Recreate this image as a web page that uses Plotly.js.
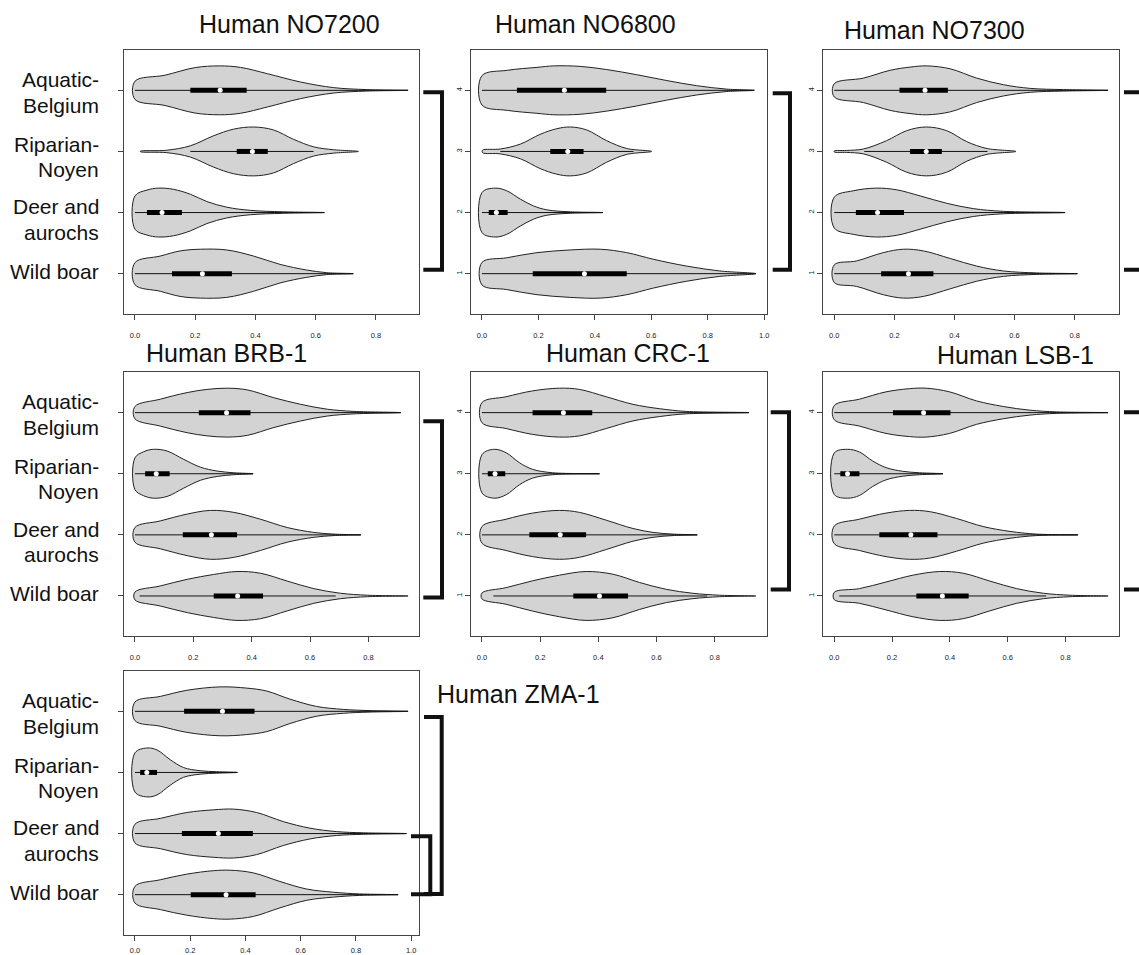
<!DOCTYPE html>
<html><head><meta charset="utf-8">
<script src="https://cdn.plot.ly/plotly-3.0.1.min.js"></script>
<style>html,body{margin:0;padding:0;background:#fff}</style>
</head><body><div id="chart" style="width:1139px;height:955px"></div>
<script>
// ---------------- DATA ----------------
const panelTitles = ["Human NO7200","Human NO6800","Human NO7300","Human BRB-1","Human CRC-1","Human LSB-1","Human ZMA-1"];
// category 1..4 (bottom to top)
const groupLines = [["Wild boar"],["Deer and","aurochs"],["Riparian-","Noyen"],["Aquatic-","Belgium"]];
const categoryTicks = [1,2,3,4];
const categoryTickText = ["1","2","3","4"];

// Density outlines: x positions and relative half-widths (per group: Wild boar, Deer, Riparian, Aquatic)
const NO7200_kx = [[0,0.084,0.15,0.217,0.305,0.394,0.482,0.57,0.637,0.725],[0,0.04,0.078,0.128,0.184,0.239,0.305,0.383,0.493,0.629],[0.018,0.106,0.184,0.261,0.327,0.394,0.46,0.526,0.593,0.659,0.742],[0,0.10,0.20,0.28,0.35,0.44,0.55,0.66,0.77,0.907]];
const NO7200_kw = [[0.45,0.72,0.93,1.0,0.97,0.72,0.38,0.15,0.04,0],[0.68,0.92,1.0,0.95,0.75,0.45,0.22,0.09,0.03,0],[0.01,0.05,0.23,0.64,0.91,1.0,0.88,0.5,0.19,0.07,0],[0.37,0.62,0.93,1.0,0.94,0.68,0.34,0.11,0.03,0]];
const NO7200_q1 = [0.123,0.04,0.338,0.184], NO7200_med = [0.224,0.09,0.39,0.283], NO7200_q3 = [0.322,0.156,0.441,0.371];
const NO7200_wlo = [0,0,0.184,0], NO7200_whi = [0.725,0.629,0.593,0.907];

const NO6800_kx = [[0,0.088,0.195,0.313,0.419,0.513,0.607,0.725,0.843,0.97],[0,0.047,0.088,0.136,0.183,0.23,0.313,0.428],[0.002,0.065,0.136,0.206,0.265,0.313,0.371,0.442,0.513,0.601],[0,0.09,0.195,0.254,0.348,0.442,0.548,0.655,0.761,0.867,0.965]];
const NO6800_kw = [[0.46,0.65,0.86,0.97,1.0,0.86,0.59,0.31,0.11,0],[0.82,1.0,0.89,0.55,0.27,0.11,0.03,0],[0.05,0.1,0.3,0.7,0.93,1.0,0.88,0.44,0.12,0],[0.6,0.82,0.94,1.0,0.98,0.85,0.64,0.4,0.19,0.05,0]];
const NO6800_q1 = [0.18,0.024,0.242,0.124], NO6800_med = [0.363,0.051,0.304,0.292], NO6800_q3 = [0.513,0.091,0.36,0.44];
const NO6800_wlo = [0,0,0.065,0], NO6800_whi = [0.97,0.428,0.537,0.965];

const NO7300_kx = [[0,0.074,0.163,0.23,0.297,0.386,0.474,0.563,0.674,0.809],[0,0.063,0.141,0.208,0.286,0.374,0.463,0.563,0.768],[0,0.041,0.097,0.174,0.241,0.306,0.374,0.441,0.508,0.604],[0,0.097,0.186,0.252,0.308,0.386,0.474,0.563,0.652,0.763,0.911]];
const NO7300_kw = [[0.36,0.52,0.86,1.0,0.93,0.62,0.31,0.11,0.03,0],[0.63,0.89,1.0,0.93,0.68,0.38,0.16,0.05,0],[0.02,0.04,0.1,0.44,0.85,1.0,0.85,0.4,0.12,0],[0.27,0.5,0.82,0.95,1.0,0.88,0.5,0.23,0.08,0.03,0]];
const NO7300_q1 = [0.156,0.072,0.252,0.217], NO7300_med = [0.247,0.144,0.306,0.302], NO7300_q3 = [0.33,0.232,0.358,0.378];
const NO7300_wlo = [0,0,0.1,0], NO7300_whi = [0.809,0.768,0.51,0.911];

const BRB1_kx = [[0,0.087,0.179,0.27,0.35,0.43,0.522,0.613,0.705,0.797,0.936],[0,0.087,0.179,0.259,0.339,0.43,0.522,0.613,0.682,0.774],[0,0.03,0.064,0.11,0.167,0.224,0.282,0.339,0.405],[0,0.087,0.179,0.247,0.316,0.385,0.476,0.568,0.659,0.751,0.911]];
const BRB1_kw = [[0.16,0.41,0.68,0.88,1.0,0.93,0.61,0.3,0.11,0.03,0],[0.3,0.57,0.85,1.0,0.92,0.64,0.3,0.1,0.03,0],[0.65,0.9,1.0,0.93,0.59,0.27,0.11,0.04,0],[0.25,0.55,0.82,0.95,1.0,0.93,0.61,0.34,0.14,0.05,0]];
const BRB1_q1 = [0.27,0.164,0.035,0.219], BRB1_med = [0.352,0.262,0.073,0.314], BRB1_q3 = [0.439,0.35,0.119,0.396];
const BRB1_wlo = [0.016,0,0,0], BRB1_whi = [0.688,0.774,0.405,0.911];

const CRC1_kx = [[0,0.083,0.174,0.266,0.358,0.45,0.542,0.634,0.725,0.817,0.941],[0,0.083,0.174,0.266,0.335,0.427,0.519,0.588,0.657,0.74],[0,0.042,0.083,0.129,0.174,0.243,0.404],[0,0.083,0.174,0.266,0.335,0.427,0.519,0.611,0.702,0.917]];
const CRC1_kw = [[0.12,0.34,0.62,0.85,1.0,0.89,0.55,0.27,0.11,0.03,0],[0.34,0.64,0.89,1.0,0.92,0.6,0.26,0.1,0.03,0],[0.78,1.0,0.86,0.45,0.18,0.04,0],[0.41,0.65,0.89,1.0,0.95,0.65,0.34,0.16,0.05,0]];
const CRC1_q1 = [0.314,0.163,0.02,0.174], CRC1_med = [0.404,0.269,0.045,0.28], CRC1_q3 = [0.502,0.358,0.08,0.379];
const CRC1_wlo = [0.039,0,0,0], CRC1_whi = [0.774,0.74,0.404,0.917];

const LSB1_kx = [[0,0.087,0.179,0.272,0.365,0.446,0.538,0.631,0.724,0.816,0.947],[0,0.087,0.179,0.26,0.33,0.423,0.515,0.608,0.7,0.843],[0,0.046,0.087,0.133,0.179,0.237,0.295,0.376],[0,0.087,0.179,0.26,0.318,0.399,0.492,0.585,0.677,0.77,0.947]];
const LSB1_kw = [[0.15,0.3,0.57,0.85,1.0,0.93,0.61,0.3,0.11,0.03,0],[0.36,0.64,0.89,1.0,0.95,0.67,0.34,0.14,0.03,0],[0.85,1.0,0.89,0.52,0.25,0.1,0.04,0],[0.29,0.55,0.85,0.98,1.0,0.85,0.48,0.25,0.1,0.03,0]];
const LSB1_q1 = [0.284,0.156,0.021,0.203], LSB1_med = [0.374,0.265,0.046,0.309], LSB1_q3 = [0.465,0.357,0.087,0.402];
const LSB1_wlo = [0.017,0,0,0], LSB1_whi = [0.733,0.843,0.376,0.947];

const ZMA1_kx = [[0,0.092,0.188,0.284,0.345,0.429,0.525,0.622,0.718,0.814,0.953],[0,0.092,0.188,0.284,0.357,0.441,0.537,0.634,0.73,0.827,0.983],[0,0.043,0.08,0.128,0.176,0.236,0.296,0.371],[0,0.092,0.188,0.308,0.405,0.477,0.561,0.658,0.754,0.851,0.989]];
const ZMA1_kw = [[0.34,0.61,0.84,0.98,1.0,0.89,0.54,0.23,0.1,0.03,0],[0.38,0.62,0.86,0.97,1.0,0.86,0.49,0.22,0.08,0.03,0],[0.8,1.0,0.92,0.52,0.2,0.07,0.03,0],[0.38,0.61,0.86,1.0,0.95,0.83,0.5,0.2,0.08,0.03,0]];
const ZMA1_q1 = [0.202,0.17,0.019,0.178], ZMA1_med = [0.33,0.302,0.043,0.317], ZMA1_q3 = [0.437,0.427,0.08,0.433];
const ZMA1_wlo = [0,0,0,0], ZMA1_whi = [0.953,0.983,0.371,0.989];

// significance brackets: [panel index, lower category, upper category]
const bracketPanel = [0,1,2,3,4,5,6,6];
const bracketLow   = [1,1,1,1,1,1,1,1];
const bracketHigh  = [4,4,4,4,4,4,4,2];

// ---------------- STYLE / LAYOUT ----------------
const W = 1139, H = 955;
const FONT = "Liberation Sans, Arial, Helvetica, sans-serif";
const colPx = [[124,419],[471,766.7],[823.3,1119]];
const rowPx = [[50,314],[372.3,636.3],[671,935]];
const rowTickStandoff = [9, 9, 3];
const panelCell = [[0,0],[0,1],[0,2],[1,0],[1,1],[1,2],[2,0]];
const labelledPanels = [0,3,6];
const titlePos = [[289,24],[585,24],[934.5,30],[226,353],[628,353],[1016,354.5],[518,694]];
const labelShiftPx = [-2.6, 7, 5.5, 2];   // down offsets of group label blocks
const lineGapPx = 25.5;
const bracketXStart = [423.3,772.7,1124,423.3,770.7,1124,424,411];
const bracketXVert  = [442,790,1142,442,789,1142,441.7,430.3];
const bracketTopDy  = [2,3,2,8.7,-0.5,-0.5,5.7,2.6];
const bracketBotDy  = [-4,-4,-4,1.6,-6.4,-6.4,-0.7,-0.3];
const halfMax = 0.4, yLo = 0.34, yHi = 4.66;

const panels = [
  [NO7200_kx,NO7200_kw,NO7200_q1,NO7200_med,NO7200_q3,NO7200_wlo,NO7200_whi],
  [NO6800_kx,NO6800_kw,NO6800_q1,NO6800_med,NO6800_q3,NO6800_wlo,NO6800_whi],
  [NO7300_kx,NO7300_kw,NO7300_q1,NO7300_med,NO7300_q3,NO7300_wlo,NO7300_whi],
  [BRB1_kx,BRB1_kw,BRB1_q1,BRB1_med,BRB1_q3,BRB1_wlo,BRB1_whi],
  [CRC1_kx,CRC1_kw,CRC1_q1,CRC1_med,CRC1_q3,CRC1_wlo,CRC1_whi],
  [LSB1_kx,LSB1_kw,LSB1_q1,LSB1_med,LSB1_q3,LSB1_wlo,LSB1_whi],
  [ZMA1_kx,ZMA1_kw,ZMA1_q1,ZMA1_med,ZMA1_q3,ZMA1_wlo,ZMA1_whi]
];

const traces = [];
const layout = {
  width: W, height: H, margin: {l:0,r:0,t:0,b:0},
  paper_bgcolor: '#fff', plot_bgcolor: '#fff', showlegend: false,
  font: {family: FONT, color: '#111'},
  annotations: [], shapes: []
};

panels.forEach((P, p) => {
  const k = p === 0 ? '' : String(p+1);
  const xa = 'x'+k, ya = 'y'+k;
  const [kx, kw, q1, med, q3, wlo, whi] = P;
  let mx = 0, mn = Infinity;
  kx.forEach(a => { mx = Math.max(mx, a[a.length-1]); mn = Math.min(mn, a[0]); });
  const pad = 0.04*(mx-mn);
  const [ri, ci] = panelCell[p];
  const xd = [colPx[ci][0]/W, colPx[ci][1]/W];
  const yd = [1-rowPx[ri][1]/H, 1-rowPx[ri][0]/H];
  const labelled = labelledPanels.includes(p);
  layout['xaxis'+k] = {
    domain: xd, anchor: ya, range: [mn-pad, mx+pad],
    showline: true, mirror: true, linecolor: '#444', linewidth: 1,
    ticks: 'outside', ticklen: 5, tickwidth: 1, tickcolor: '#444',
    tick0: 0, dtick: 0.2, tickformat: '.1f', ticklabelstandoff: rowTickStandoff[ri],
    tickfont: {size: 7.5, color: '#222', family: FONT},
    showgrid: false, zeroline: false, fixedrange: true
  };
  layout['yaxis'+k] = {
    domain: yd, anchor: xa, range: [yLo, yHi],
    showline: true, mirror: true, linecolor: '#444', linewidth: 1,
    ticks: 'outside', ticklen: 5, tickwidth: 1, tickcolor: '#444',
    tickvals: categoryTicks, ticktext: categoryTickText, tickangle: -90,
    showticklabels: !labelled,
    tickfont: {size: 7.5, color: '#222', family: FONT},
    showgrid: false, zeroline: false, fixedrange: true
  };

  for (let g = 0; g < 4; g++) {
    const c = categoryTicks[g];
    const xs = kx[g], ws = kw[g];
    const n = xs.length;
    const vx = [], vy = [];
    for (let i = 0; i < n; i++) { vx.push(xs[i]); vy.push(c + halfMax*ws[i]); }
    for (let i = n-2; i >= 0; i--) { vx.push(xs[i]); vy.push(c - halfMax*ws[i]); }
    vx.push(xs[0]); vy.push(c + halfMax*ws[0]);
    traces.push({type:'scatter', mode:'lines', x: vx, y: vy, xaxis: xa, yaxis: ya,
      fill: 'toself', fillcolor: '#d3d3d3',
      line: {color: '#222', width: 1, shape: 'spline', smoothing: 1}, hoverinfo: 'skip'});
    traces.push({type:'scatter', mode:'lines', x: [wlo[g], whi[g]], y: [c, c], xaxis: xa, yaxis: ya,
      line: {color: '#111', width: 1}, hoverinfo: 'skip'});
    traces.push({type:'scatter', mode:'lines', x: [q1[g], q3[g]], y: [c, c], xaxis: xa, yaxis: ya,
      line: {color: '#000', width: 5}, hoverinfo: 'skip'});
    traces.push({type:'scatter', mode:'markers', x: [med[g]], y: [c], xaxis: xa, yaxis: ya,
      marker: {color: '#fff', size: 5, line: {width: 0}}, hoverinfo: 'skip'});

    if (labelled) {
      const lines = groupLines[g];
      lines.forEach((t, li) => {
        const off = labelShiftPx[g] + (li - (lines.length-1)/2)*lineGapPx;
        layout.annotations.push({text: t, xref: 'paper', yref: ya, x: 101/W, y: c,
          xanchor: 'right', yanchor: 'middle', yshift: -off, showarrow: false,
          font: {size: 21, family: FONT, color: '#111'}});
      });
    }
  }

  layout.annotations.push({text: panelTitles[p], xref: 'paper', yref: 'paper',
    x: titlePos[p][0]/W, y: 1-titlePos[p][1]/H, xanchor: 'center', yanchor: 'middle',
    showarrow: false, font: {size: 25, family: FONT, color: '#111'}});
});

bracketPanel.forEach((p, b) => {
  const k = p === 0 ? '' : String(p+1);
  const [ri] = panelCell[p];
  const unitPx = (rowPx[ri][1]-rowPx[ri][0])/(yHi-yLo);
  const yT = bracketHigh[b] - bracketTopDy[b]/unitPx;
  const yB = bracketLow[b] - bracketBotDy[b]/unitPx;
  const x0 = bracketXStart[b]/W, x1 = bracketXVert[b]/W;
  layout.shapes.push({type: 'path', xref: 'paper', yref: 'y'+k,
    path: `M ${x0},${yT} L ${x1},${yT} L ${x1},${yB} L ${x0},${yB}`,
    line: {color: '#111', width: 4}});
});

Plotly.newPlot('chart', traces, layout, {staticPlot: true, displayModeBar: false});
</script>
</body></html>
